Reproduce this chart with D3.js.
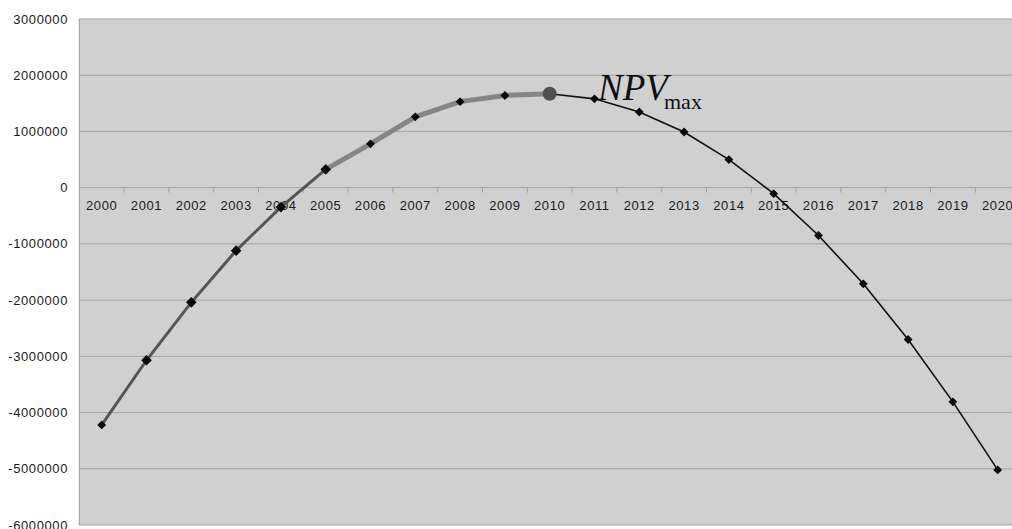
<!DOCTYPE html>
<html>
<head>
<meta charset="utf-8">
<script src="https://cdn.jsdelivr.net/npm/d3@7"></script>
<style>
  body { margin: 0; background: #fff; overflow: hidden; }
  text { font-family: "Liberation Sans", Arial, sans-serif; }
</style>
</head>
<body>
<div id="chart"></div>
<script>
// years on the category axis
const years = ["2000", "2001", "2002", "2003", "2004", "2005", "2006", "2007", "2008", "2009", "2010",
  "2011", "2012", "2013", "2014", "2015", "2016", "2017", "2018", "2019", "2020"];
// NPV per year
const npv = [-4220000, -3070000, -2040000, -1120000, -345000, 325000, 780000, 1260000, 1530000, 1640000, 1670000,
  1580000, 1345000, 990000, 500000, -107000, -850000, -1710000, -2700000, -3810000, -5020000];
const yTicks = [3000000, 2000000, 1000000, 0, -1000000, -2000000, -3000000, -4000000, -5000000, -6000000];
const maxYear = "2010";

const width = 1012, height = 529;
const plotLeft = 79.3, plotTop = 19, plotBottom = 525;
const band = 44.8;

const svg = d3.select("#chart").append("svg")
    .attr("width", width)
    .attr("height", height);

const x = d3.scaleBand()
    .domain(years)
    .range([plotLeft, plotLeft + band * years.length])
    .padding(0);

const y = d3.scaleLinear()
    .domain([-6000000, 3000000])
    .range([plotBottom, plotTop]);

// plot area
svg.append("rect")
    .attr("x", plotLeft).attr("y", plotTop)
    .attr("width", width - plotLeft).attr("height", plotBottom - plotTop)
    .attr("fill", "#d0d0d0");

// gridlines
svg.append("g")
    .selectAll("line")
    .data(yTicks)
    .join("line")
    .attr("x1", plotLeft).attr("x2", width)
    .attr("y1", d => y(d)).attr("y2", d => y(d))
    .attr("stroke", "#a3a3a3")
    .attr("stroke-width", 1);

// left axis line
svg.append("line")
    .attr("x1", plotLeft).attr("x2", plotLeft)
    .attr("y1", plotTop).attr("y2", plotBottom)
    .attr("stroke", "#999");

// y labels
svg.append("g")
    .selectAll("text")
    .data(yTicks)
    .join("text")
    .attr("x", 68)
    .attr("y", d => y(d) + 4.5)
    .attr("text-anchor", "end")
    .attr("font-size", "13px")
    .attr("letter-spacing", "0.6px")
    .attr("fill", "#1a1a1a")
    .text(d => d);

// category ticks along zero line
svg.append("g")
    .selectAll("line")
    .data(years.slice(1))
    .join("line")
    .attr("x1", d => x(d)).attr("x2", d => x(d))
    .attr("y1", y(0)).attr("y2", y(0) + 5)
    .attr("stroke", "#a3a3a3");

// year labels
svg.append("g")
    .selectAll("text")
    .data(years)
    .join("text")
    .attr("x", d => x(d) + x.bandwidth() / 2)
    .attr("y", y(0) + 22.5)
    .attr("text-anchor", "middle")
    .attr("font-size", "13px")
    .attr("letter-spacing", "0.6px")
    .attr("fill", "#1a1a1a")
    .text(d => d);

const pts = years.map((yr, i) => ({ year: yr, v: npv[i], i: i }));
const cx = d => x(d.year) + x.bandwidth() / 2;
const line = d3.line().x(cx).y(d => y(d.v));

const iMax = years.indexOf(maxYear);
// three parts of the curve
svg.append("path").datum(pts.slice(0, 6))
    .attr("d", line).attr("fill", "none")
    .attr("stroke", "#555").attr("stroke-width", 3);
svg.append("path").datum(pts.slice(5, iMax + 1))
    .attr("d", line).attr("fill", "none")
    .attr("stroke", "#858585").attr("stroke-width", 5);
svg.append("path").datum(pts.slice(iMax))
    .attr("d", line).attr("fill", "none")
    .attr("stroke", "#111").attr("stroke-width", 1.6);

// diamond markers
svg.append("g")
    .selectAll("path")
    .data(pts.filter(d => d.year !== maxYear))
    .join("path")
    .attr("transform", d => `translate(${cx(d)},${y(d.v)})`)
    .attr("d", d => d3.symbol(d3.symbolDiamond2, (d.i >= 1 && d.i <= 5) ? 72 : 50)())
    .attr("fill", "#0a0a0a");

// max point
const mp = pts[iMax];
svg.append("circle")
    .attr("cx", cx(mp)).attr("cy", y(mp.v))
    .attr("r", 7)
    .attr("fill", "#505050");

// NPVmax label
const lab = svg.append("text")
    .attr("x", 598).attr("y", 100)
    .attr("fill", "#111")
    .style("font-family", "'Liberation Serif', 'Times New Roman', serif");
lab.append("tspan")
    .attr("font-style", "italic")
    .attr("font-size", "37px")
    .text("NPV");
lab.append("tspan")
    .attr("font-size", "22px")
    .attr("x", 664).attr("y", 109)
    .text("max");
</script>
</body>
</html>
